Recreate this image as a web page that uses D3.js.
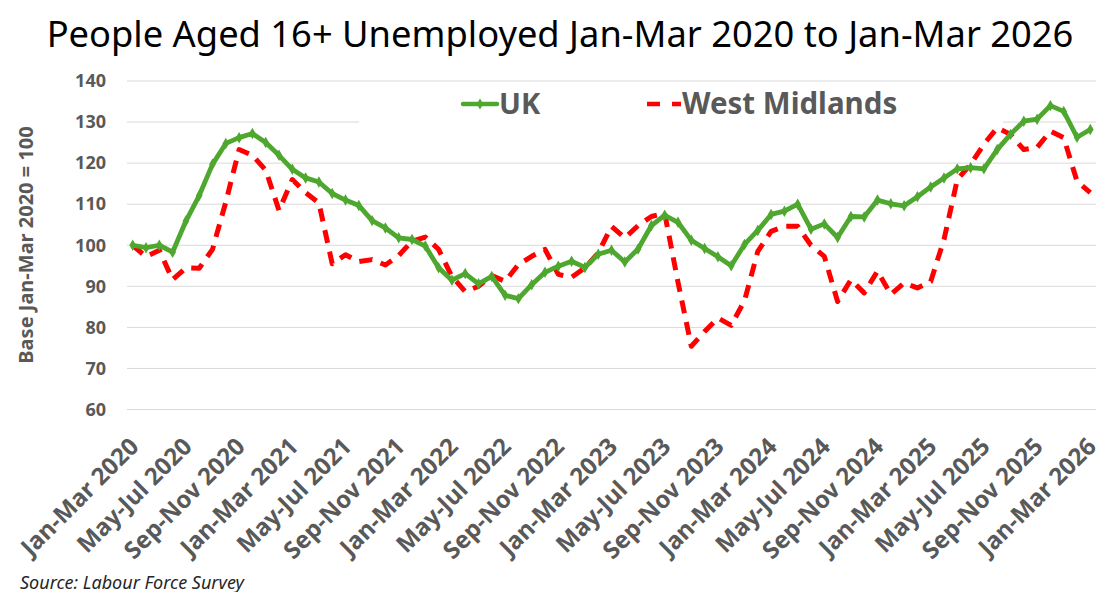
<!DOCTYPE html>
<html>
<head>
<meta charset="utf-8">
<script src="https://cdn.jsdelivr.net/npm/d3@7"></script>
<style>
  body { margin: 0; background: #fff; }
  svg { display: block; }
  text { font-family: "Noto Sans", "Liberation Sans", sans-serif; }
  .tick-label { font-weight: bold; fill: #595959; }
</style>
</head>
<body>
<div id="chart"></div>
<script>
// rolling quarters, Jan-Mar 2020 .. Jan-Mar 2026
const monthNames = ["Jan", "Feb", "Mar", "Apr", "May", "Jun", "Jul", "Aug", "Sep", "Oct", "Nov", "Dec"];
const periods = [];
for (let k = 0; k < 73; k++) {
    const m = k % 12, yr = 2020 + Math.floor((k + 2) / 12);
    periods.push(`${monthNames[m]}-${monthNames[(m + 2) % 12]} ${yr}`);
}

const tickLabels = [
    "Jan-Mar 2020", "May-Jul 2020", "Sep-Nov 2020", "Jan-Mar 2021", "May-Jul 2021",
    "Sep-Nov 2021", "Jan-Mar 2022", "May-Jul 2022", "Sep-Nov 2022", "Jan-Mar 2023",
    "May-Jul 2023", "Sep-Nov 2023", "Jan-Mar 2024", "May-Jul 2024", "Sep-Nov 2024",
    "Jan-Mar 2025", "May-Jul 2025", "Sep-Nov 2025", "Jan-Mar 2026"
];

const yTicks = [60, 70, 80, 90, 100, 110, 120, 130, 140];

const ukValues = [
    100, 99.4, 100, 98.3, 105.9, 112.1, 119.7, 124.8, 126.2, 127.2, 125, 121.9,
    118.5, 116.4, 115.4, 112.6, 111, 109.7, 106, 104.2, 101.8, 101.4, 99.8, 94.5,
    91.5, 93.1, 90.6, 92.4, 87.8, 87, 90.4, 93.4, 94.9, 96.1, 94.6, 97.8,
    98.8, 95.9, 99.1, 104.8, 107.3, 105.6, 101.2, 99.2, 97.2, 95, 100.2, 103.6,
    107.5, 108.3, 110, 103.9, 105.2, 101.9, 107, 106.9, 111, 110.1, 109.6, 111.8,
    114.2, 116.4, 118.6, 118.9, 118.6, 123.3, 127, 130.2, 130.7, 134, 132.6, 126.3,
    128.2
];

const westMidlandsValues = [
    100, 97.2, 98.8, 91.6, 94.5, 94.4, 99, 110.5, 123.3, 121.9, 118.3, 108.5,
    116, 112.8, 110.3, 95.5, 97.7, 96, 96.5, 95.2, 97.5, 101, 102, 99,
    92.4, 88.7, 90, 92.6, 91.2, 95.3, 97.3, 99, 92.9, 92.2, 94.5, 98.1,
    104.6, 101.8, 104.8, 107, 107.8, 91, 75.4, 79, 82.3, 80.5, 86.5, 98.5,
    103.4, 104.6, 104.6, 100, 97.3, 86.3, 91.6, 88.4, 93.7, 88, 90.8, 89.6,
    91.2, 101.4, 116, 119.7, 124.6, 128.6, 127, 123.3, 123.8, 127.8, 126.2, 115.6,
    112.8
];

const width = 1096, height = 592;
const green = "#4ea72e", red = "#ff0000", grey = "#595959";

const svg = d3.select("#chart")
    .append("svg")
    .attr("width", width)
    .attr("height", height);

// scales
const xScale = d3.scalePoint()
    .domain(periods)
    .range([132.7, 1090.3]);

const yScale = d3.scaleLinear()
    .domain([60, 140])
    .range([409.5, 81]);

// title
svg.append("text")
    .attr("x", 560)
    .attr("y", 47)
    .attr("text-anchor", "middle")
    .style("font-size", "36.3px")
    .attr("fill", "#000")
    .text("People Aged 16+ Unemployed Jan-Mar 2020 to Jan-Mar 2026");

// gridlines
svg.append("g")
    .selectAll("line")
    .data(yTicks)
    .join("line")
    .attr("x1", 127)
    .attr("x2", width)
    .attr("y1", d => yScale(d))
    .attr("y2", d => yScale(d))
    .attr("stroke", "#d9d9d9")
    .attr("stroke-width", 1);

// y axis labels
const leftAxis = d3.axisLeft(yScale).tickValues(yTicks).tickSize(0).tickPadding(0);
svg.append("g")
    .attr("transform", "translate(106,0)")
    .call(leftAxis)
    .call(g => g.select(".domain").remove())
    .selectAll("text")
    .attr("class", "tick-label")
    .style("font-size", "18px")
    .style("font-family", "'Noto Sans', sans-serif");

svg.append("text")
    .attr("transform", "translate(33,245) rotate(-90)")
    .attr("text-anchor", "middle")
    .attr("class", "tick-label")
    .style("font-size", "20px")
    .text("Base Jan-Mar 2020 = 100");

// x axis labels
const bottomAxis = d3.axisBottom(xScale).tickValues(tickLabels).tickSize(0).tickPadding(0);
svg.append("g")
    .attr("transform", "translate(1,442)")
    .call(bottomAxis)
    .call(g => g.select(".domain").remove())
    .selectAll("text")
    .attr("class", "tick-label")
    .style("font-size", "24px")
    .style("font-family", "'Noto Sans', sans-serif")
    .attr("text-anchor", "end")
    .attr("y", 0)
    .attr("dy", "0.35em")
    .attr("transform", "rotate(-45)");

// legend box
svg.append("rect")
    .attr("x", 359)
    .attr("y", 84)
    .attr("width", 644)
    .attr("height", 42)
    .attr("fill", "#fff");

const legend = svg.append("g");
legend.append("line")
    .attr("x1", 463).attr("x2", 497)
    .attr("y1", 104).attr("y2", 104)
    .attr("stroke", green)
    .attr("stroke-width", 4.5)
    .attr("stroke-linecap", "round");
legend.append("path")
    .attr("d", d3.symbol(d3.symbolDiamond, 35)())
    .attr("transform", "translate(480,104)")
    .attr("fill", green);
legend.append("text")
    .attr("x", 499).attr("y", 114)
    .attr("class", "tick-label")
    .style("font-size", "29px")
    .text("UK");

legend.append("line")
    .attr("x1", 647).attr("x2", 681)
    .attr("y1", 104).attr("y2", 104)
    .attr("stroke", red)
    .attr("stroke-width", 4.5)
    .attr("stroke-dasharray", "13,12");
legend.append("text")
    .attr("x", 682).attr("y", 114)
    .attr("class", "tick-label")
    .style("font-size", "29.5px")
    .text("West Midlands");

// lines
const line = d3.line()
    .x((d, i) => xScale(periods[i]))
    .y(d => yScale(d));

svg.append("path")
    .datum(westMidlandsValues)
    .attr("d", line)
    .attr("fill", "none")
    .attr("stroke", red)
    .attr("stroke-width", 5)
    .attr("stroke-dasharray", "13,9")
    .attr("stroke-linejoin", "round");

svg.append("path")
    .datum(ukValues)
    .attr("d", line)
    .attr("fill", "none")
    .attr("stroke", green)
    .attr("stroke-width", 4.8)
    .attr("stroke-linejoin", "round");

svg.append("g")
    .selectAll("path")
    .data(ukValues)
    .join("path")
    .attr("d", d3.symbol(d3.symbolDiamond, 38))
    .attr("transform", (d, i) => `translate(${xScale(periods[i])},${yScale(d)})`)
    .attr("fill", green);

// source
svg.append("text")
    .attr("x", 20)
    .attr("y", 589)
    .style("font-size", "18px")
    .style("font-style", "italic")
    .attr("fill", "#262626")
    .text("Source: Labour Force Survey");
</script>
</body>
</html>
